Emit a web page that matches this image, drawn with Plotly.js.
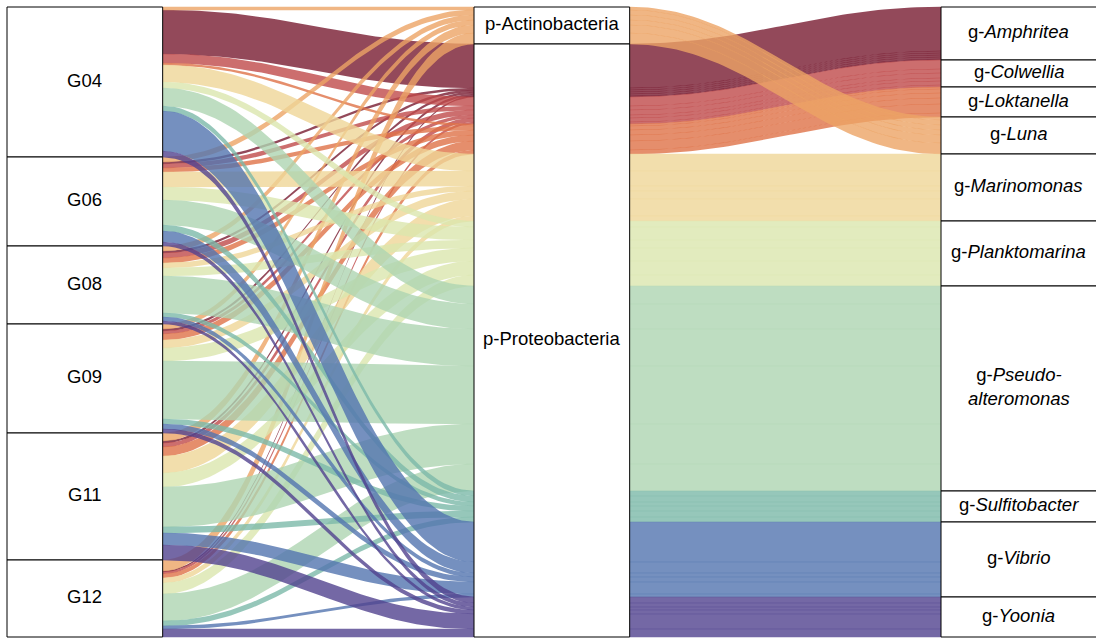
<!DOCTYPE html>
<html>
<head>
<meta charset="utf-8">
<script src="https://cdn.plot.ly/plotly-3.0.1.min.js"></script>
<style>
  html, body { margin: 0; padding: 0; background: #ffffff; }
  #chart { width: 1096px; height: 640px; }
</style>
</head>
<body>
<div id="chart"></div>
<script>
// Sample groups (first axis), phyla (second axis) and genera (third axis)
const groups = ['G04', 'G06', 'G08', 'G09', 'G11', 'G12'];
const phyla = ['p-Actinobacteria', 'p-Proteobacteria'];
const genera = ['Amphritea', 'Colwellia', 'Loktanella', 'Luna', 'Marinomonas',
                'Planktomarina', 'Pseudoalteromonas', 'Sulfitobacter', 'Vibrio', 'Yoonia'];
// index into `phyla` for each genus
const genusPhylum = [1, 1, 1, 0, 1, 1, 1, 1, 1, 1];
const genusLabels = ['g-<i>Amphritea</i>', 'g-<i>Colwellia</i>', 'g-<i>Loktanella</i>', 'g-<i>Luna</i>',
                     'g-<i>Marinomonas</i>', 'g-<i>Planktomarina</i>', 'g-<i>Pseudo-</i><br><i>alteromonas</i>',
                     'g-<i>Sulfitobacter</i>', 'g-<i>Vibrio</i>', 'g-<i>Yoonia</i>'];

// Abundance of each genus, one value per group (same order as `groups`)
const amphritea         = [44, 2, 2, 2, 2, 1];
const colwellia         = [9, 4, 5, 3, 4, 2];
const loktanella        = [2, 4, 5, 6, 9, 4];
const luna              = [3, 5, 5, 5, 8, 11];
const marinomonas       = [17, 15, 5, 8, 17, 5];
const planktomarina     = [6, 13, 8, 13, 14, 11];
const pseudoalteromonas = [18, 25, 37, 58, 40, 27];
const sulfitobacter     = [5, 6, 4, 5, 6, 5];
const vibrio            = [40, 11, 4, 5, 12, 3];
const yoonia            = [6, 4, 3, 4, 15, 8];

const genusColors = ['#781b31', '#bf4a4a', '#de7247', '#eca465', '#efd697',
                     '#dbe6ae', '#aed4b1', '#7cb9a9', '#5274af', '#51428e'];
const flowAlpha = 0.8;

const values = [amphritea, colwellia, loktanella, luna, marinomonas,
                planktomarina, pseudoalteromonas, sulfitobacter, vibrio, yoonia];

// ---- lode positions on each axis (stacked top to bottom) ----
const W = 1 / 3;                       // stratum width
const G = groups.length, K = genera.length;
// genus order on the first two axes: by phylum, then by name
const byPhylum = genera.map((_, k) => k).sort((a, b) =>
  genusPhylum[a] - genusPhylum[b] || genera[a].localeCompare(genera[b]));

const left = [], mid = [], right = [];
for (let g = 0; g < G; g++) { left.push([]); mid.push([]); right.push([]); }

// axis 1: within each group, lodes by phylum then genus
let off = 0;
const groupSpan = [];
for (let g = 0; g < G; g++) {
  const start = off;
  for (const k of byPhylum) { left[g][k] = [off, off + values[k][g]]; off += values[k][g]; }
  groupSpan.push([start, off]);
}
// axis 2: within each phylum, lodes by genus then group
off = 0;
const phylumSpan = phyla.map(() => [Infinity, -Infinity]);
for (const k of byPhylum) {
  for (let g = 0; g < G; g++) {
    mid[g][k] = [off, off + values[k][g]];
    const p = genusPhylum[k];
    phylumSpan[p][0] = Math.min(phylumSpan[p][0], off);
    off += values[k][g];
    phylumSpan[p][1] = Math.max(phylumSpan[p][1], off);
  }
}
// axis 3: genera in name order, lodes by group
off = 0;
const genusSpan = [];
for (let k = 0; k < K; k++) {
  const start = off;
  for (let g = 0; g < G; g++) { right[g][k] = [off, off + values[k][g]]; off += values[k][g]; }
  genusSpan.push([start, off]);
}

// ---- flow ribbons ----
const N = 60;
const knot = 0.4;    // horizontal position of the Bezier control points
const seam = 0.25;   // neighbouring ribbons overlap slightly, leaving thin darker seams
function ribbon(xa, xb, a, b, xs, ys) {
  const dx = xb - xa;
  const top = [], bot = [];
  for (let i = 0; i <= N; i++) {
    const u = i / N, v = 1 - u;
    const fx = 3 * v * v * u * knot + 3 * v * u * u * (1 - knot) + u * u * u;
    const fy = 3 * u * u - 2 * u * u * u;
    const x = xa + dx * fx;
    top.push([x, a[0] - seam + (b[0] - a[0]) * fy]);
    bot.push([x, a[1] + seam + (b[1] - a[1]) * fy]);
  }
  bot.reverse();
  for (const p of top.concat(bot)) { xs.push(p[0]); ys.push(p[1]); }
  xs.push(top[0][0]); ys.push(top[0][1]);
}
function rgba(hex, a) {
  const n = parseInt(hex.slice(1), 16);
  return `rgba(${n >> 16},${(n >> 8) & 255},${n & 255},${a})`;
}

// flows are drawn genus by genus in name order, so later genera lie on top
const traces = [];
for (let k = 0; k < K; k++) {
  for (let g = 0; g < G; g++) {
    if (!values[k][g]) continue;
    const xs = [], ys = [];
    ribbon(1 + W / 2, 2 - W / 2, left[g][k], mid[g][k], xs, ys);
    xs.push(null); ys.push(null);
    ribbon(2 + W / 2, 3 - W / 2, mid[g][k], right[g][k], xs, ys);
    traces.push({
      type: 'scatter', mode: 'lines', x: xs, y: ys,
      fill: 'toself', fillcolor: rgba(genusColors[k], flowAlpha),
      line: { width: 0, color: rgba(genusColors[k], 0) },
      name: groups[g] + ' · ' + genera[k],
      hoverinfo: 'name', showlegend: false
    });
  }
}

// ---- strata boxes and labels ----
const shapes = [], annotations = [];
const labelFont = { family: 'Arial, "Liberation Sans", sans-serif', size: 18.5, color: '#000000' };
function stratum(x, span, text) {
  shapes.push({
    type: 'rect', xref: 'x', yref: 'y', layer: 'above',
    x0: x - W / 2, x1: x + W / 2, y0: span[0], y1: span[1],
    fillcolor: '#ffffff', line: { color: '#000000', width: 1 }
  });
  annotations.push({
    x: x, y: (span[0] + span[1]) / 2, xref: 'x', yref: 'y',
    text: text, showarrow: false, font: labelFont,
    xanchor: 'center', yanchor: 'middle', yshift: 2
  });
}
groups.forEach((name, g) => stratum(1, groupSpan[g], name));
phyla.forEach((name, p) => stratum(2, phylumSpan[p], name));
genera.forEach((_, k) => stratum(3, genusSpan[k], genusLabels[k]));

const total = groupSpan[G - 1][1];
const layout = {
  width: 1096, height: 640,
  margin: { l: 6, r: 0, t: 6, b: 2, pad: 0 },
  paper_bgcolor: '#ffffff', plot_bgcolor: '#ffffff',
  showlegend: false,
  xaxis: { range: [5 / 6 - 1 / 467, 5 / 6 - 1 / 467 + 1090 / 467], visible: false, fixedrange: true },
  yaxis: { range: [total + 1, -1], visible: false, fixedrange: true },
  shapes: shapes,
  annotations: annotations,
  hovermode: 'closest'
};

Plotly.newPlot('chart', traces, layout, { displayModeBar: false });
</script>
</body>
</html>
